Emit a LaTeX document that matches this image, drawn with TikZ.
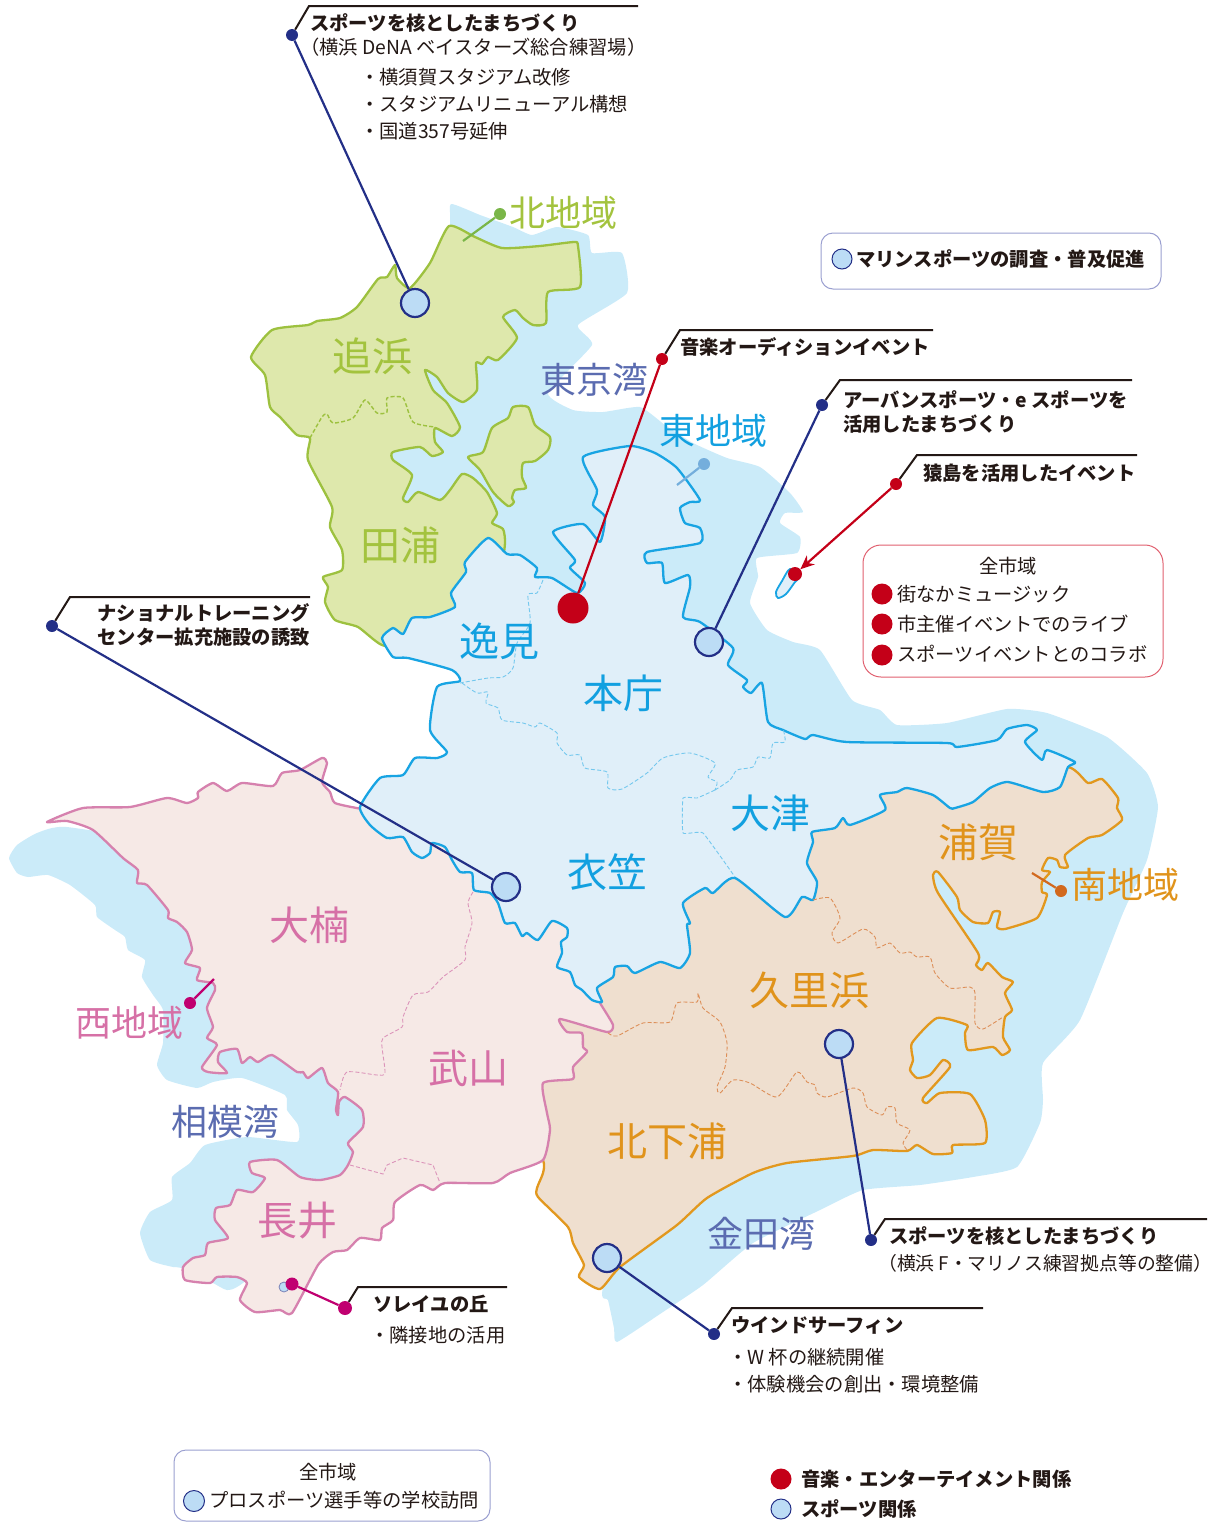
\documentclass[tikz,border=0pt]{standalone}
\usepackage{fontspec}
\setmainfont{Noto Sans CJK JP}
\usetikzlibrary{arrows.meta}
\definecolor{sea}{HTML}{CBEBF9}
\definecolor{gfill}{HTML}{DEE8AC}
\definecolor{gline}{HTML}{9DC13F}
\definecolor{bfill}{HTML}{E0EFF9}
\definecolor{bline}{HTML}{18A4E3}
\definecolor{pfill}{HTML}{F6E9E6}
\definecolor{pline}{HTML}{D681AE}
\definecolor{ofill}{HTML}{EFDFCF}
\definecolor{oline}{HTML}{E2981E}
\definecolor{navy}{HTML}{232F87}
\definecolor{mred}{HTML}{C40018}
\definecolor{mag}{HTML}{C00070}
\definecolor{spotc}{HTML}{BCDCF5}
\definecolor{bay}{HTML}{5B6CB0}
\definecolor{ink}{HTML}{231815}
\definecolor{lblp}{HTML}{D670A6}
\definecolor{lblb}{HTML}{12A0E0}
\definecolor{lblo}{HTML}{E0931B}
\definecolor{lblg}{HTML}{A3C33E}
\definecolor{kitad}{HTML}{7AB648}
\definecolor{higad}{HTML}{74AEDC}
\definecolor{minad}{HTML}{D2691E}
\definecolor{keyline}{HTML}{9A9FD0}
\definecolor{redline}{HTML}{E0606F}
\tikzset{
  coast/.style={line width=2.3pt,line join=round},
  wardline/.style={line width=0.9pt,dash pattern=on 4pt off 2.2pt},
  area/.style={font=\fontsize{36}{36}\selectfont,inner sep=0pt},
  ward/.style={font=\fontsize{40}{40}\selectfont,inner sep=0pt},
  head/.style={font=\fontsize{19.3}{19.3}\selectfont\bfseries,text=ink,inner sep=0pt,anchor=west},
  sub/.style={font=\fontsize{19.3}{19.3}\selectfont,text=ink,inner sep=0pt,anchor=west},
  spot/.style={circle,draw=navy,fill=spotc,line width=2.2pt,minimum size=28pt,inner sep=0pt},
  keyspot/.style={circle,draw=navy,fill=spotc,line width=1pt,minimum size=20pt,inner sep=0pt},
  dotn/.style={circle,fill=#1,draw=none,minimum size=12pt,inner sep=0pt},
  keydot/.style={circle,fill=mred,draw=none,minimum size=21pt,inner sep=0pt},
  elbow/.style={draw=ink,line width=2pt},
  leader/.style={line width=2.2pt},
  keybox/.style={line width=1pt,rounded corners=12pt},
}
\begin{document}
\begin{tikzpicture}[x=1pt,y=-1pt]
\useasboundingbox (0,0) rectangle (1215,1529);
% sea east
\fill[sea] plot[smooth cycle,tension=.3] coordinates{
(451,204)(480,215)(513,227)(532,235)(557,227)(588,235)(592,253)(622,253)(627,293)(578,325)(592,345)(548,393)(573,410)(603,412)(640,407)(665,425)(693,443)(727,458)(760,467)(790,493)(803,512)(785,513)(780,523)(800,537)(797,553)(757,558)(758,577)(750,603)(767,630)(793,642)(820,650)(852,700)(880,710)(897,725)(947,723)(1007,709)(1047,713)(1107,737)(1147,773)(1158,807)(1147,860)(1123,913)(1080,1020)(1043,1063)(1043,1100)(1040,1123)(1017,1167)(973,1177)(920,1185)(863,1190)(820,1210)(753,1243)(703,1285)(660,1314)(617,1342)(614,1328)(608,1300)(603,1287)(650,1100)(700,900)(600,700)(500,640)(440,560)(370,480)(400,400)(440,340)(450,225)};
% sea west
\fill[sea] plot[smooth cycle,tension=.3] coordinates{
(67,827)(37,833)(17,845)(9,858)(17,873)(28,877)(48,875)(70,885)(95,905)(97,917)(115,930)(125,937)(128,950)(145,960)(142,977)(153,995)(163,1010)(163,1043)(157,1065)(167,1080)(197,1088)(213,1082)(242,1078)(285,1095)(287,1110)(298,1125)(297,1142)(247,1137)(205,1145)(190,1163)(172,1177)(172,1200)(150,1212)(140,1233)(150,1260)(173,1267)(182,1268)(213,1283)(227,1290)(243,1283)(350,1200)(450,1100)(360,1000)(300,900)(200,850)};
% green
\filldraw[coast,fill=gfill,draw=gline] plot[smooth cycle,tension=.35] coordinates{
(449,226)(475,237)(502,248)(540,246)(574,242)(578,246)(580,287)(548,292)(546,323)(533,325)(523,318)(515,310)(503,317)(517,338)(498,360)(488,357)(482,364)(476,363)(477,390)(463,402)(448,393)(437,377)(425,370)(433,390)(447,403)(460,427)(452,436)(435,428)(435,442)(443,452)(432,456)(420,447)(393,452)(393,460)(412,475)(403,498)(408,502)(418,492)(440,500)(450,490)(462,474)(473,478)(487,492)(497,513)(492,523)(503,529)(505,543)(500,570)(470,620)(420,650)(382,645)(358,627)(335,620)(325,602)(328,587)(323,577)(342,570)(342,550)(330,527)(332,507)(308,460)(310,438)(297,435)(280,417)(270,407)(265,375)(251,357)(272,330)(308,325)(317,321)(340,318)(357,307)(378,279)(387,277)(395,265)(397,278)(410,288)(430,263)};
\filldraw[coast,fill=gfill,draw=gline] plot[smooth cycle,tension=.4] coordinates{
(468,457)(483,452)(492,428)(508,418)(513,407)(528,407)(535,425)(550,437)(548,450)(535,461)(523,463)(522,477)(526,488)(515,490)(512,498)(514,502)(508,506)(493,492)(480,470)};
% orange
\filldraw[coast,fill=ofill,draw=oline] plot[smooth cycle,tension=.35] coordinates{
(1068,767)(1088,783)(1102,779)(1118,798)(1117,808)(1122,820)(1102,835)(1088,838)(1065,855)(1068,867)(1060,867)(1057,860)(1048,858)(1042,870)(1050,872)(1042,882)(1042,892)(1047,895)(1037,918)(1005,929)(997,927)(1000,912)(993,912)(988,923)(973,922)(960,910)(957,897)(938,872)(933,875)(938,893)(978,953)(976,965)(982,970)(988,963)(1002,977)(1013,982)(1005,993)(1012,1010)(1005,1017)(1003,1037)(1010,1050)(1002,1055)(993,1047)(968,1050)(965,1033)(967,1025)(937,1018)(912,1043)(913,1060)(910,1070)(917,1078)(930,1075)(943,1060)(950,1067)(923,1098)(927,1103)(940,1093)(970,1094)(985,1120)(985,1143)(953,1145)(952,1153)(933,1154)(917,1145)(907,1151)(873,1150)(853,1156)(787,1163)(753,1173)(707,1198)(677,1225)(620,1267)(600,1289)(579,1277)(584,1265)(573,1243)(568,1227)(538,1197)(537,1188)(543,1173)(543,1160)(520,1120)(530,1060)(560,1000)(620,960)(700,870)(800,800)(1000,770)};
% pink
\filldraw[coast,fill=pfill,draw=pline] plot[smooth cycle,tension=.35] coordinates{
(47,822)(83,808)(130,807)(167,798)(187,803)(198,798)(198,792)(213,783)(227,791)(242,783)(273,786)(282,773)(300,770)(322,758)(327,763)(322,782)(330,792)(335,803)(362,809)(400,815)(450,835)(510,880)(575,915)(585,960)(590,985)(600,1003)(613,1025)(607,1032)(560,1019)(567,1032)(582,1033)(583,1047)(587,1052)(573,1067)(573,1079)(543,1083)(547,1113)(550,1130)(543,1160)(510,1173)(493,1183)(445,1183)(433,1190)(420,1185)(395,1202)(393,1220)(382,1228)(380,1240)(360,1238)(347,1250)(333,1252)(318,1265)(292,1313)(280,1310)(255,1312)(240,1300)(247,1283)(237,1277)(217,1277)(210,1283)(185,1280)(183,1267)(193,1258)(205,1255)(208,1243)(228,1238)(215,1220)(216,1208)(230,1205)(237,1190)(253,1192)(265,1178)(252,1173)(250,1162)(277,1160)(300,1177)(320,1180)(340,1175)(348,1165)(353,1152)(348,1143)(363,1127)(362,1110)(345,1097)(339,1102)(338,1115)(336,1110)(338,1092)(328,1083)(322,1068)(308,1078)(303,1072)(297,1072)(272,1055)(258,1062)(250,1057)(242,1063)(237,1049)(220,1052)(218,1062)(227,1073)(208,1072)(202,1067)(217,1045)(207,1038)(213,1027)(207,1008)(215,990)(213,983)(197,980)(200,968)(185,963)(192,950)(187,932)(177,922)(168,918)(168,910)(147,885)(137,883)(138,870)(123,858)(93,830)(67,821)};
% blue
\filldraw[coast,fill=bfill,draw=bline] plot[smooth cycle,tension=.35] coordinates{
(382,638)(393,628)(403,634)(412,618)(430,617)(455,607)(451,593)(466,572)(465,562)(488,538)(507,554)(520,555)(537,568)(535,577)(552,578)(577,593)(585,583)(570,568)(575,560)(553,532)(583,524)(600,542)(605,517)(593,505)(597,490)(583,457)(630,446)(655,453)(677,468)(700,500)(690,502)(680,508)(685,523)(700,528)(700,543)(647,552)(647,563)(662,563)(665,583)(688,575)(690,587)(683,617)(700,622)(733,648)(728,665)(747,680)(743,687)(751,693)(762,683)(768,722)(783,730)(805,739)(813,735)(847,742)(947,743)(957,747)(997,740)(1007,729)(1027,725)(1037,730)(1025,742)(1042,760)(1047,750)(1075,762)(1068,767)(1060,787)(1043,792)(1008,782)(990,788)(973,802)(955,808)(950,808)(933,795)(907,788)(897,792)(880,795)(885,810)(850,825)(843,818)(835,828)(812,832)(813,842)(807,863)(817,882)(813,900)(802,897)(785,917)(735,878)(713,893)(705,888)(683,903)(690,923)(687,925)(690,953)(680,968)(660,962)(635,973)(627,966)(615,967)(613,977)(597,988)(602,1002)(592,1000)(582,990)(575,985)(570,972)(557,967)(562,953)(561,942)(567,937)(567,928)(552,921)(538,940)(527,933)(522,936)(515,923)(505,923)(498,903)(490,893)(474,890)(472,873)(460,872)(452,860)(445,847)(432,843)(430,853)(422,858)(412,852)(403,837)(387,838)(370,825)(360,807)(380,778)(403,775)(415,758)(437,758)(447,752)(430,730)(437,687)(460,681)(452,670)(408,658)(393,657)};
% Sarushima
\filldraw[line width=1.8pt,fill=bfill,draw=bline] plot[smooth cycle,tension=.5] coordinates{(790,569)(782,581)(776,592)(778,598)(786,594)(795,582)(800,576)};
% ward boundaries
\draw[wardline,gline,line width=1.4pt] plot[smooth,tension=.4] coordinates{(310,438)(322,417)(327,414)(333,423)(353,418)(365,400)(377,413)(387,412)(387,398)(403,398)(413,422)(435,427)};
\draw[wardline,bline!60] plot[smooth,tension=.4] coordinates{(543,580)(537,593)(528,595)(530,623)(517,643)(513,668)(503,677)(488,678)(460,683)};
\draw[wardline,bline!60] plot[smooth,tension=.4] coordinates{(462,683)(477,693)(488,692)(486,703)(498,708)(502,720)(523,723)(535,727)(540,723)(557,733)(557,743)(567,755)(580,755)(585,768)(607,772)(608,788)(622,789)(647,773)(663,758)(690,753)(715,763)(708,777)(717,782)(715,790)};
\draw[wardline,bline!60] plot[smooth,tension=.4] coordinates{(715,790)(730,780)(737,770)(753,767)(758,757)(770,758)(773,743)(785,742)(783,728)};
\draw[wardline,bline!60] plot[smooth,tension=.2] coordinates{(715,790)(697,798)(683,798)(683,833)(703,833)(735,877)};
\draw[wardline,oline!60!pline] plot[smooth,tension=.4] coordinates{(813,900)(830,898)(840,918)(832,933)(838,943)(863,929)(875,937)(877,948)(890,943)(900,953)(910,952)(917,957)(930,957)(935,973)(950,988)(970,987)(975,993)(975,1023)(983,1029)(1003,1017)};
\draw[wardline,oline!60!pline] plot[smooth,tension=.4] coordinates{(608,1033)(617,1036)(643,1023)(670,1022)(677,1003)(697,1002)(698,993)(703,1008)(720,1022)(727,1043)(725,1067)(717,1087)(720,1093)(733,1080)(750,1083)(777,1097)(797,1072)(807,1082)(815,1085)(817,1093)(827,1097)(853,1088)(863,1093)(867,1107)(882,1115)(887,1107)(895,1108)(897,1123)(910,1130)(903,1143)(908,1151)};
\draw[wardline,pline!85] plot[smooth,tension=.4] coordinates{(473,892)(468,903)(472,923)(465,947)(465,960)(443,977)(428,992)(413,995)(403,1017)(402,1027)(383,1038)(382,1047)(385,1073)(377,1075)(347,1072)(340,1090)};
\draw[wardline,pline!85] (350,1165) -- (383,1174) -- (387,1165) -- (403,1158) -- (433,1165) -- (440,1183);
% area labels
\node[area,text=lblg] (nkita) at (563,213) {北地域};
\node[ward,text=lblg] (noppama) at (372,356) {追浜};
\node[ward,text=lblg] (ntaura) at (400,545) {田浦};
\node[area,text=bay] (ntokyo) at (594,380) {東京湾};
\node[area,text=lblb] (nhigashi) at (713,431) {東地域};
\node[ward,text=lblb] (nhemi) at (499,641) {逸見};
\node[ward,text=lblb] (nhoncho) at (623,693) {本庁};
\node[ward,text=lblb] (notsu) at (770,813) {大津};
\node[ward,text=lblb] (nkinu) at (607,872) {衣笠};
\node[ward,text=lblo] (nuraga) at (978,842) {浦賀};
\node[area,text=lblo] (nminami) at (1125,885) {南地域};
\node[ward,text=lblo] (nkuri) at (809,990) {久里浜};
\node[ward,text=lblo] (nkita2) at (667,1141) {北下浦};
\node[area,text=bay] (nkaneda) at (761,1234) {金田湾};
\node[ward,text=lblp] (nookusu) at (309,925) {大楠};
\node[area,text=lblp] (nnishi) at (129,1023) {西地域};
\node[ward,text=lblp] (ntakeyama) at (468,1068) {武山};
\node[area,text=bay] (nsagami) at (225,1122) {相模湾};
\node[ward,text=lblp] (nnagai) at (297,1221) {長井};
% region pointers
\node[dotn=kitad] (dkita) at (500,214) {};
\coordinate (ekita) at (463,241);
\draw[kitad,leader] (dkita) -- (ekita);
\node[dotn=higad] (dhiga) at (704,464) {};
\coordinate (ehiga) at (677,485);
\draw[higad,leader] (dhiga) -- (ehiga);
\node[dotn=minad] (dmina) at (1061,891) {};
\coordinate (emina) at (1032,873);
\draw[minad,leader] (dmina) -- (emina);
\node[dotn=mag] (dnishi) at (190,1003) {};
\coordinate (enishi) at (214,979);
\draw[mag,leader] (dnishi) -- (enishi);
% callout: Yokohama DeNA
\node[dotn=navy] (d1) at (292,35) {};
\node[spot] (c1) at (415,303) {};
\draw[navy,leader] (d1) -- (c1);
\coordinate (e1a) at (309,6); \coordinate (e1b) at (638,6);
\draw[elbow] (d1) -- (e1a) -- (e1b);
\node[head] (t1a) at (310,23) {スポーツを核としたまちづくり};
\node[sub] (t1b) at (300,47) {（横浜 DeNA ベイスターズ総合練習場）};
\node[sub] (t1c) at (360,77) {・横須賀スタジアム改修};
\node[sub] (t1d) at (360,104) {・スタジアムリニューアル構想};
\node[sub] (t1e) at (360,131) {・国道357号延伸};
% key marine
\node[draw=keyline,keybox,minimum width=340pt,minimum height=56pt,inner sep=0pt] (kmarine) at (991,261) {};
\node[keyspot] (kmspot) at (842,259) {};
\node[head] (kmtext) at (856,259) {マリンスポーツの調査・普及促進};
% callout: music audition
\node[dotn=mred] (d2) at (662,359) {};
\node[circle,fill=mred,minimum size=31pt,inner sep=0pt] (c2) at (573,608) {};
\draw[mred,leader] (d2) -- (c2);
\coordinate (e2a) at (680,330); \coordinate (e2b) at (933,330);
\draw[elbow] (d2) -- (e2a) -- (e2b);
\node[head] (t2) at (680,347) {音楽オーディションイベント};
% callout: urban sports
\node[dotn=navy] (d3) at (822,405) {};
\node[spot] (c3) at (709,642) {};
\draw[navy,leader] (d3) -- (c3);
\coordinate (e3a) at (840,380); \coordinate (e3b) at (1132,380);
\draw[elbow] (d3) -- (e3a) -- (e3b);
\node[head] (t3a) at (843,400) {アーバンスポーツ・e スポーツを};
\node[head] (t3b) at (843,424) {活用したまちづくり};
% callout: Sarushima
\node[dotn=mred] (d4) at (896,484) {};
\node[circle,fill=mred,minimum size=14pt,inner sep=0pt] (c4) at (795,574) {};
\draw[mred,leader,-{Stealth[length=14pt,width=12pt]}] (d4) -- (c4);
\coordinate (e4a) at (917,455); \coordinate (e4b) at (1137,455);
\draw[elbow] (d4) -- (e4a) -- (e4b);
\node[head] (t4) at (923,473) {猿島を活用したイベント};
% red box
\node[draw=redline,line width=1pt,rounded corners=18pt,minimum width=300pt,minimum height=132pt,inner sep=0pt] (kred) at (1013,611) {};
\node[sub,anchor=center] (krt) at (1008,566) {全市域};
\node[keydot] (kr1) at (882,594) {};
\node[keydot] (kr2) at (882,624) {};
\node[keydot] (kr3) at (882,655) {};
\node[sub] (krt1) at (897,594) {街なかミュージック};
\node[sub] (krt2) at (897,624) {市主催イベントでのライブ};
\node[sub] (krt3) at (897,654) {スポーツイベントとのコラボ};
% callout: national training
\node[dotn=navy] (d5) at (52,626) {};
\node[spot] (c5) at (506,887) {};
\draw[navy,leader] (d5) -- (c5);
\coordinate (e5a) at (70,597); \coordinate (e5b) at (310,597);
\draw[elbow] (d5) -- (e5a) -- (e5b);
\node[head,anchor=east] (t5a) at (310,613) {ナショナルトレーニング};
\node[head,anchor=east] (t5b) at (310,637) {センター拡充施設の誘致};
% callout: Marinos
\node[dotn=navy] (d6) at (871,1240) {};
\node[spot] (c6) at (839,1044) {};
\draw[navy,leader] (d6) -- (c6);
\coordinate (e6a) at (885,1219); \coordinate (e6b) at (1207,1219);
\draw[elbow] (d6) -- (e6a) -- (e6b);
\node[head] (t6a) at (889,1236) {スポーツを核としたまちづくり};
\node[sub,font=\fontsize{18.8}{18.8}\selectfont] (t6b) at (878,1263) {（横浜 F・マリノス練習拠点等の整備）};
% callout: windsurfing
\node[dotn=navy] (d7) at (714,1334) {};
\node[spot] (c7) at (607,1258) {};
\draw[navy,leader] (d7) -- (c7);
\coordinate (e7a) at (732,1308); \coordinate (e7b) at (983,1308);
\draw[elbow] (d7) -- (e7a) -- (e7b);
\node[head] (t7a) at (731,1325) {ウインドサーフィン};
\node[sub] (t7b) at (728,1357) {・W 杯の継続開催};
\node[sub] (t7c) at (728,1384) {・体験機会の創出・環境整備};
% callout: Soleil
\node[circle,draw=navy!60,fill=spotc,line width=.8pt,minimum size=10pt,inner sep=0pt] (c8s) at (284,1287) {};
\node[dotn=mag,minimum size=13pt] (c8) at (292,1284) {};
\node[dotn=mag,minimum size=14pt] (d8) at (345,1308) {};
\draw[mag,leader] (d8) -- (c8);
\coordinate (e8a) at (358,1287); \coordinate (e8b) at (507,1287);
\draw[elbow] (d8) -- (e8a) -- (e8b);
\node[head] (t8a) at (373,1304) {ソレイユの丘};
\node[sub] (t8b) at (370,1335) {・隣接地の活用};
% bottom box
\node[draw=keyline,keybox,minimum width=316pt,minimum height=71pt,inner sep=0pt] (kpro) at (332,1485.5) {};
\node[sub,anchor=center] (kpt) at (328,1472) {全市域};
\node[keyspot,minimum size=21pt] (kpspot) at (194,1501) {};
\node[sub] (kpt2) at (209,1500) {プロスポーツ選手等の学校訪問};
% legend
\node[keydot] (lg1) at (781,1479) {};
\node[keyspot] (lg2) at (781,1509) {};
\node[head] (lgt1) at (801,1479) {音楽・エンターテイメント関係};
\node[head] (lgt2) at (801,1509) {スポーツ関係};
\end{tikzpicture}
\end{document}
